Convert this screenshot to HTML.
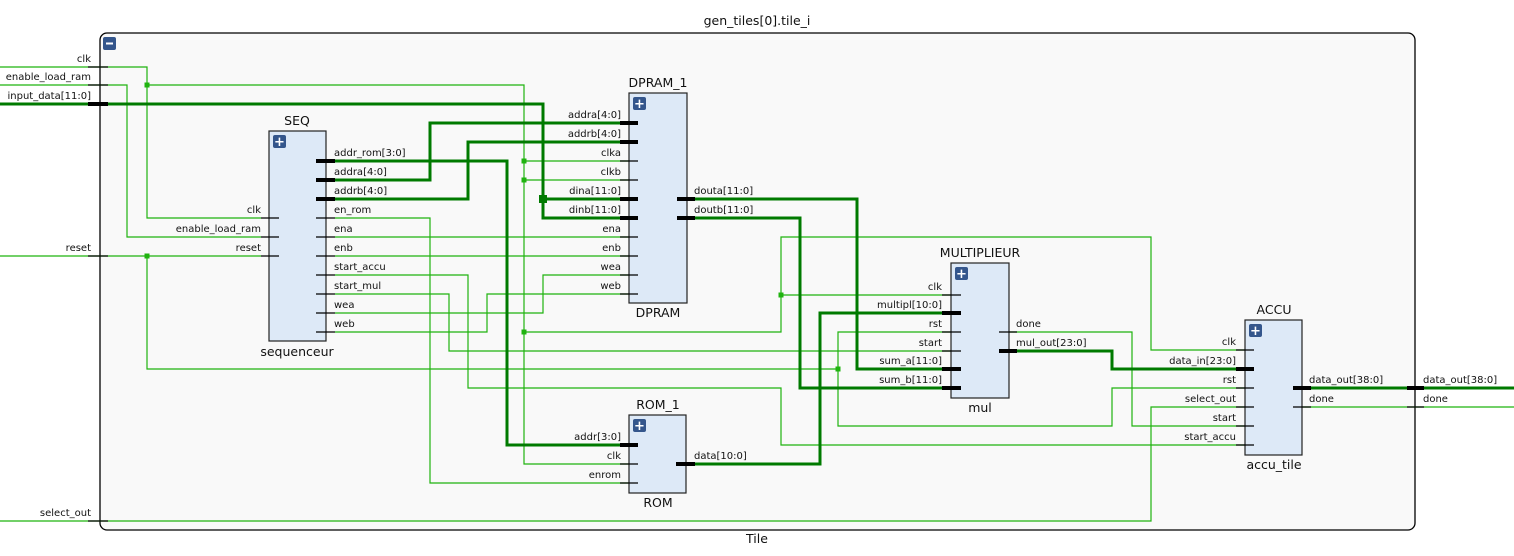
<!DOCTYPE html>
<html><head><meta charset="utf-8"><style>
html,body{margin:0;padding:0;background:#fff;width:1514px;height:556px;overflow:hidden}
svg text{font-family:"DejaVu Sans","Liberation Sans",sans-serif;font-size:10px;fill:#111}
.t{font-size:12.5px}
.w{stroke:#1fb30f;stroke-width:1.2;fill:none}
.b{stroke:#007a00;stroke-width:3;fill:none}
.s{stroke:#000;stroke-width:1.3}
.sb{stroke:#000;stroke-width:4}
.box{fill:#dde9f7;stroke:#222;stroke-width:1.2}
.btn{fill:#34568c}
.d{fill:#1fb30f}
</style></head><body>
<svg width="1514" height="556" xmlns="http://www.w3.org/2000/svg">
<rect x="100" y="33" width="1315" height="497" rx="7" fill="#f9f9f9" stroke="#000" stroke-width="1.3"/>
<text class="t" x="757" y="25" text-anchor="middle">gen_tiles[0].tile_i</text>
<text class="t" x="757" y="543" text-anchor="middle">Tile</text>
<rect class="btn" x="103" y="37" width="13" height="13" rx="2"/><rect x="106" y="42.5" width="7" height="2" fill="#fff"/>

<!-- wires thin -->
<polyline class="w" points="0,67 147,67 147,218 261,218"/>
<polyline class="w" points="147,85 524,85 524,464 629,464"/>
<line class="w" x1="524" y1="161" x2="629" y2="161"/>
<line class="w" x1="524" y1="180" x2="629" y2="180"/>
<polyline class="w" points="524,332 781,332 781,237 1151,237 1151,350 1245,350"/>
<line class="w" x1="781" y1="295" x2="951" y2="295"/>
<polyline class="w" points="0,85 127,85 127,237 261,237"/>
<line class="w" x1="0" y1="256" x2="261" y2="256"/>
<polyline class="w" points="147,256 147,369 838,369"/>
<polyline class="w" points="951,332 838,332 838,426 1112,426 1112,388 1245,388"/>
<polyline class="w" points="335,218 430,218 430,483 629,483"/>
<line class="w" x1="335" y1="237" x2="629" y2="237"/>
<line class="w" x1="335" y1="256" x2="629" y2="256"/>
<polyline class="w" points="335,275 468,275 468,388 781,388 781,445 1245,445"/>
<polyline class="w" points="335,294 449,294 449,351 951,351"/>
<polyline class="w" points="335,313 543,313 543,275 629,275"/>
<polyline class="w" points="335,332 487,332 487,294 629,294"/>
<polyline class="w" points="1009,332 1132,332 1132,426 1245,426"/>
<polyline class="w" points="0,521 1151,521 1151,407 1245,407"/>
<line class="w" x1="1302" y1="407" x2="1514" y2="407"/>
<!-- dots -->
<rect class="d" x="144.5" y="82.5" width="5" height="5"/>
<rect class="d" x="144.5" y="253.5" width="5" height="5"/>
<rect class="d" x="521.5" y="158.5" width="5" height="5"/>
<rect class="d" x="521.5" y="177.5" width="5" height="5"/>
<rect class="d" x="521.5" y="329.5" width="5" height="5"/>
<rect class="d" x="778.5" y="292.5" width="5" height="5"/>
<rect class="d" x="835.5" y="366.5" width="5" height="5"/>
<!-- buses -->
<polyline class="b" points="0,104 543,104 543,218 629,218"/>
<line class="b" x1="543" y1="199" x2="629" y2="199"/>
<rect x="539" y="195" width="8" height="8" fill="#007a00"/>
<polyline class="b" points="335,161 507,161 507,445 629,445"/>
<polyline class="b" points="335,180 430,180 430,123 629,123"/>
<polyline class="b" points="335,199 468,199 468,142 629,142"/>
<polyline class="b" points="687,199 857,199 857,369 951,369"/>
<polyline class="b" points="687,218 800,218 800,388 951,388"/>
<polyline class="b" points="686,464 820,464 820,313 951,313"/>
<polyline class="b" points="1009,351 1112,351 1112,369 1245,369"/>
<line class="b" x1="1302" y1="388" x2="1514" y2="388"/>

<!-- tile ports -->
<g class="s"><line x1="88" y1="67" x2="108" y2="67"/><line x1="88" y1="85" x2="108" y2="85"/><line x1="88" y1="256" x2="108" y2="256"/><line x1="88" y1="521" x2="108" y2="521"/><line x1="1407" y1="407" x2="1424" y2="407"/></g>
<g class="sb"><line x1="88" y1="104" x2="108" y2="104"/><line x1="1407" y1="388" x2="1424" y2="388"/></g>
<g text-anchor="end"><text x="91" y="62">clk</text><text x="91" y="80">enable_load_ram</text><text x="91" y="99">input_data[11:0]</text><text x="91" y="251">reset</text><text x="91" y="516">select_out</text></g>
<text x="1423" y="383">data_out[38:0]</text><text x="1423" y="402">done</text>

<!-- SEQ -->
<rect class="box" x="269" y="131" width="57" height="210"/>
<rect class="btn" x="273" y="135" width="13" height="13" rx="2"/><text x="279.5" y="146" text-anchor="middle" style="fill:#fff;font-size:13px;font-weight:bold">+</text>
<text class="t" x="297" y="125" text-anchor="middle">SEQ</text><text class="t" x="297" y="356" text-anchor="middle">sequenceur</text>
<g class="s"><line x1="261" y1="218" x2="279" y2="218"/><line x1="261" y1="237" x2="279" y2="237"/><line x1="261" y1="256" x2="279" y2="256"/>
<line x1="316" y1="218" x2="335" y2="218"/><line x1="316" y1="237" x2="335" y2="237"/><line x1="316" y1="256" x2="335" y2="256"/><line x1="316" y1="275" x2="335" y2="275"/><line x1="316" y1="294" x2="335" y2="294"/><line x1="316" y1="313" x2="335" y2="313"/><line x1="316" y1="332" x2="335" y2="332"/></g>
<g class="sb"><line x1="316" y1="161" x2="335" y2="161"/><line x1="316" y1="180" x2="335" y2="180"/><line x1="316" y1="199" x2="335" y2="199"/></g>
<g text-anchor="end"><text x="261" y="213">clk</text><text x="261" y="232">enable_load_ram</text><text x="261" y="251">reset</text></g>
<g><text x="334" y="156">addr_rom[3:0]</text><text x="334" y="175">addra[4:0]</text><text x="334" y="194">addrb[4:0]</text><text x="334" y="213">en_rom</text><text x="334" y="232">ena</text><text x="334" y="251">enb</text><text x="334" y="270">start_accu</text><text x="334" y="289">start_mul</text><text x="334" y="308">wea</text><text x="334" y="327">web</text></g>

<!-- DPRAM -->
<rect class="box" x="629" y="93" width="58" height="210"/>
<rect class="btn" x="633" y="97" width="13" height="13" rx="2"/><text x="639.5" y="108" text-anchor="middle" style="fill:#fff;font-size:13px;font-weight:bold">+</text>
<text class="t" x="658" y="87" text-anchor="middle">DPRAM_1</text><text class="t" x="658" y="317" text-anchor="middle">DPRAM</text>
<g class="s"><line x1="620" y1="161" x2="638" y2="161"/><line x1="620" y1="180" x2="638" y2="180"/><line x1="620" y1="237" x2="638" y2="237"/><line x1="620" y1="256" x2="638" y2="256"/><line x1="620" y1="275" x2="638" y2="275"/><line x1="620" y1="294" x2="638" y2="294"/></g>
<g class="sb"><line x1="620" y1="123" x2="638" y2="123"/><line x1="620" y1="142" x2="638" y2="142"/><line x1="620" y1="199" x2="638" y2="199"/><line x1="620" y1="218" x2="638" y2="218"/><line x1="677" y1="199" x2="695" y2="199"/><line x1="677" y1="218" x2="695" y2="218"/></g>
<g text-anchor="end"><text x="621" y="118">addra[4:0]</text><text x="621" y="137">addrb[4:0]</text><text x="621" y="156">clka</text><text x="621" y="175">clkb</text><text x="621" y="194">dina[11:0]</text><text x="621" y="213">dinb[11:0]</text><text x="621" y="232">ena</text><text x="621" y="251">enb</text><text x="621" y="270">wea</text><text x="621" y="289">web</text></g>
<text x="694" y="194">douta[11:0]</text><text x="694" y="213">doutb[11:0]</text>

<!-- ROM -->
<rect class="box" x="629" y="415" width="57" height="78"/>
<rect class="btn" x="633" y="419" width="13" height="13" rx="2"/><text x="639.5" y="430" text-anchor="middle" style="fill:#fff;font-size:13px;font-weight:bold">+</text>
<text class="t" x="658" y="409" text-anchor="middle">ROM_1</text><text class="t" x="658" y="507" text-anchor="middle">ROM</text>
<g class="s"><line x1="620" y1="464" x2="638" y2="464"/><line x1="620" y1="483" x2="638" y2="483"/></g>
<g class="sb"><line x1="620" y1="445" x2="638" y2="445"/><line x1="676" y1="464" x2="695" y2="464"/></g>
<g text-anchor="end"><text x="621" y="440">addr[3:0]</text><text x="621" y="459">clk</text><text x="621" y="478">enrom</text></g>
<text x="694" y="459">data[10:0]</text>

<!-- MUL -->
<rect class="box" x="951" y="263" width="58" height="135"/>
<rect class="btn" x="955" y="267" width="13" height="13" rx="2"/><text x="961.5" y="278" text-anchor="middle" style="fill:#fff;font-size:13px;font-weight:bold">+</text>
<text class="t" x="980" y="257" text-anchor="middle">MULTIPLIEUR</text><text class="t" x="980" y="412" text-anchor="middle">mul</text>
<g class="s"><line x1="942" y1="295" x2="961" y2="295"/><line x1="942" y1="332" x2="961" y2="332"/><line x1="942" y1="351" x2="961" y2="351"/><line x1="999" y1="332" x2="1017" y2="332"/></g>
<g class="sb"><line x1="942" y1="313" x2="961" y2="313"/><line x1="942" y1="369" x2="961" y2="369"/><line x1="942" y1="388" x2="961" y2="388"/><line x1="999" y1="351" x2="1017" y2="351"/></g>
<g text-anchor="end"><text x="942" y="290">clk</text><text x="942" y="308">multipl[10:0]</text><text x="942" y="327">rst</text><text x="942" y="346">start</text><text x="942" y="364">sum_a[11:0]</text><text x="942" y="383">sum_b[11:0]</text></g>
<text x="1016" y="327">done</text><text x="1016" y="346">mul_out[23:0]</text>

<!-- ACCU -->
<rect class="box" x="1245" y="320" width="57" height="135"/>
<rect class="btn" x="1249" y="324" width="13" height="13" rx="2"/><text x="1255.5" y="335" text-anchor="middle" style="fill:#fff;font-size:13px;font-weight:bold">+</text>
<text class="t" x="1274" y="314" text-anchor="middle">ACCU</text><text class="t" x="1274" y="469" text-anchor="middle">accu_tile</text>
<g class="s"><line x1="1236" y1="350" x2="1254" y2="350"/><line x1="1236" y1="388" x2="1254" y2="388"/><line x1="1236" y1="407" x2="1254" y2="407"/><line x1="1236" y1="426" x2="1254" y2="426"/><line x1="1236" y1="445" x2="1254" y2="445"/><line x1="1293" y1="407" x2="1311" y2="407"/></g>
<g class="sb"><line x1="1236" y1="369" x2="1254" y2="369"/><line x1="1293" y1="388" x2="1311" y2="388"/></g>
<g text-anchor="end"><text x="1236" y="345">clk</text><text x="1236" y="364">data_in[23:0]</text><text x="1236" y="383">rst</text><text x="1236" y="402">select_out</text><text x="1236" y="421">start</text><text x="1236" y="440">start_accu</text></g>
<text x="1309" y="383">data_out[38:0]</text><text x="1309" y="402">done</text>
</svg>
</body></html>
